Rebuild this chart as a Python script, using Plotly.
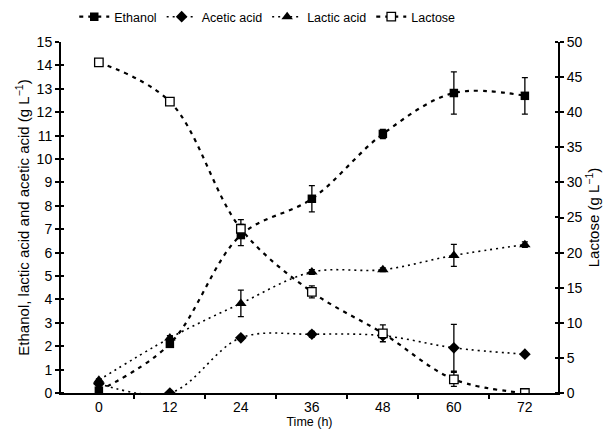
import plotly.graph_objects as go

time_h = [0, 12, 24, 36, 48, 60, 72]
ethanol = [0.1, 2.1, 6.75, 8.3, 11.07, 12.82, 12.7]
ethanol_err = [0.05, 0.12, 0.45, 0.56, 0.2, 0.9, 0.78]
acetic = [0.4, 0.0, 2.36, 2.51, 2.45, 1.93, 1.66]
acetic_err = [0.05, 0.0, 0.08, 0.12, 0.1, 1.0, 0.05]
lactic = [0.55, 2.35, 3.83, 5.17, 5.27, 5.88, 6.34]
lactic_err = [0.05, 0.1, 0.57, 0.1, 0.08, 0.47, 0.12]
lactose = [47.1, 41.5, 23.4, 14.4, 8.5, 1.95, 0.0]
lactose_err = [0.2, 0.3, 1.3, 0.85, 1.2, 1.0, 0.2]
between_ticks = [6, 18, 30, 42, 54, 66]

FONT = "Liberation Sans, Arial, sans-serif"
err_style = dict(type="data", color="black", thickness=1.3, width=3)
XR = [-6.4, 77.6]

fig = go.Figure()
fig.add_trace(go.Scatter(
    x=time_h, y=ethanol, name="Ethanol", mode="lines+markers",
    line=dict(color="black", width=2.2, dash="4px,5px", shape="spline", smoothing=1.0),
    marker=dict(symbol="square", size=8.5, color="black"),
    error_y=dict(array=ethanol_err, **err_style)))
fig.add_trace(go.Scatter(
    x=time_h, y=acetic, name="Acetic acid", mode="lines+markers",
    line=dict(color="black", width=1.6, dash="2px,4px", shape="spline", smoothing=1.0),
    marker=dict(symbol="diamond", size=9, color="black"),
    error_y=dict(array=acetic_err, **err_style)))
fig.add_trace(go.Scatter(
    x=time_h, y=lactic, name="Lactic acid", mode="lines+markers",
    line=dict(color="black", width=1.6, dash="2px,4px", shape="spline", smoothing=1.0),
    marker=dict(symbol="triangle-up", size=10, color="black"),
    error_y=dict(array=lactic_err, **err_style)))
fig.add_trace(go.Scatter(
    x=time_h, y=lactose, name="Lactose", mode="lines+markers", yaxis="y2",
    line=dict(color="black", width=2.2, dash="4px,5px", shape="spline", smoothing=1.0),
    marker=dict(symbol="square", size=8.5, color="white", line=dict(color="black", width=1.3)),
    error_y=dict(array=lactose_err, **err_style)))

tickfont = dict(family=FONT, size=14, color="black")
axis_common = dict(showline=True, linecolor="black", linewidth=2, ticks="outside",
                   ticklen=4, tickwidth=1.5, tickcolor="black", showgrid=False,
                   zeroline=False, tickfont=tickfont)

fig.update_layout(
    width=611, height=436,
    margin=dict(l=61, r=53, t=42, b=43, autoexpand=False),
    paper_bgcolor="white", plot_bgcolor="white",
    font=dict(family=FONT, size=13, color="black"),
    showlegend=True,
    legend=dict(orientation="h", x=0.415, xanchor="center", y=1.071, yanchor="middle",
                font=dict(family=FONT, size=12.5), tracegroupgap=0,
                bgcolor="rgba(0,0,0,0)"),
    xaxis=dict(range=XR, tickvals=time_h, ticks="",
               minor=dict(tickvals=between_ticks, ticks="outside", ticklen=4, tickwidth=1.5, tickcolor="black"),
               showline=True, linecolor="black", linewidth=2, showgrid=False, zeroline=False,
               tickfont=tickfont,
               title=dict(text="Time (h)", font=dict(family=FONT, size=12.5), standoff=3)),
    xaxis2=dict(range=XR, overlaying="x", anchor="y", side="bottom", tickvals=between_ticks,
                ticks="inside", ticklen=3, tickwidth=1.5, tickcolor="black",
                showticklabels=False, showline=False, showgrid=False, zeroline=False),
    yaxis=dict(range=[0, 15], dtick=1, **axis_common,
               minor=dict(tick0=0.002, dtick=1, ticks="inside", ticklen=3, tickwidth=1.5, tickcolor="black"),
               title=dict(text="Ethanol, lactic acid and acetic acid (g L<sup>\u22121</sup>)",
                          font=dict(family=FONT, size=15), standoff=3)),
    yaxis2=dict(range=[0, 50], dtick=5, overlaying="y", side="right", **axis_common,
                minor=dict(tick0=0.005, dtick=5, ticks="inside", ticklen=3, tickwidth=1.5, tickcolor="black"),
                title=dict(text="Lactose (g L<sup>\u22121</sup>)", font=dict(family=FONT, size=15), standoff=3)),
)

fig.write_html("out.html", config={"displayModeBar": False},
               post_script="document.body.style.margin='0px';")
